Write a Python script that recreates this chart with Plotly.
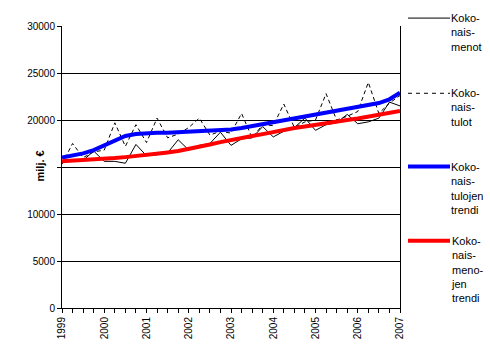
import plotly.graph_objects as go

# ---- data (quarterly, 1999Q1 .. 2007Q1) ----
quarters = [1999 + i / 4 for i in range(33)]
menot = [15600, 15600, 15700, 16700, 15600, 15600, 15400, 17400,
         16200, 16300, 16500, 17900, 16800, 17300, 17500, 18700,
         17300, 18000, 18100, 19300, 18200, 18800, 19200, 20200,
         18900, 19500, 19700, 20600, 19600, 19800, 20200, 21900, 21500]
tulot = [15300, 17500, 16000, 16600, 16800, 19700, 17200, 19500,
         17600, 20200, 18100, 18500, 19200, 20200, 18400, 18800,
         18600, 20700, 18100, 19500, 19400, 21700, 19200, 19800,
         20000, 22800, 20000, 20400, 20900, 24000, 20700, 21800, 22600]
tulojen_trendi = [16000, 16200, 16450, 16800, 17300, 17900, 18300, 18500,
                  18600, 18650, 18650, 18700, 18750, 18850, 18900, 18950,
                  19000, 19150, 19350, 19550, 19750, 19950, 20150, 20350,
                  20550, 20750, 20950, 21100, 21300, 21500, 21800, 22200, 22900]
menojen_trendi = [15600, 15650, 15700, 15800, 15850, 15950, 16050, 16150,
                  16300, 16400, 16550, 16700, 16900, 17150, 17400, 17650,
                  17900, 18100, 18300, 18500, 18750, 18950, 19150, 19300,
                  19500, 19650, 19850, 20000, 20150, 20350, 20500, 20700, 20950]
year_ticks = list(range(1999, 2008))
y_ticks = [0, 5000, 10000, 15000, 20000, 25000, 30000]
# the 15000 label is hidden behind the axis title in the original
y_tick_labels = ["0", "5000", "10000", "", "20000", "25000", "30000"]
legend_names = ["Koko-<br>nais-<br>menot",
                "Koko-<br>nais-<br>tulot",
                "Koko-<br>nais-<br>tulojen<br>trendi",
                "Koko-<br>nais-<br>meno-<br>jen<br>trendi"]

W, H = 490, 351
L, R, T, B = 62, 400, 26, 311
FONT = "Liberation Sans, Arial, sans-serif"

fig = go.Figure()
fig.add_trace(go.Scatter(x=quarters, y=menot, mode="lines",
                         line=dict(color="black", width=1)))
fig.add_trace(go.Scatter(x=quarters, y=tulot, mode="lines",
                         line=dict(color="black", width=1, dash="4px,3px")))
fig.add_trace(go.Scatter(x=quarters, y=tulojen_trendi, mode="lines",
                         line=dict(color="#0000ff", width=4)))
fig.add_trace(go.Scatter(x=quarters, y=menojen_trendi, mode="lines",
                         line=dict(color="#ff0000", width=4)))


def px_x(px):
    return (px - L) / (R - L)


def px_y(py):
    return (B - py) / (B - T)


# manual legend
styles = [dict(color="black", width=1),
          dict(color="black", width=1, dash="4px,4px"),
          dict(color="#0000ff", width=4),
          dict(color="#ff0000", width=4)]
ys = [18, 94, 168, 243]
shapes = []
annotations = []
for name, st, yy in zip(legend_names, styles, ys):
    shapes.append(dict(type="line", xref="paper", yref="paper",
                       x0=px_x(408), x1=px_x(450), y0=px_y(yy), y1=px_y(yy),
                       line=st))
    annotations.append(dict(text=name, xref="paper", yref="paper",
                            x=px_x(449), y=px_y(yy - 8), xanchor="left",
                            yanchor="top", showarrow=False, align="left",
                            font=dict(family=FONT, size=11, color="black")))

annotations.append(dict(text="<b>milj. €</b>", xref="paper", yref="paper",
                        x=px_x(40), y=px_y(168), xanchor="center",
                        yanchor="middle", textangle=-90, showarrow=False,
                        font=dict(family=FONT, size=11, color="black")))

fig.update_layout(
    width=W, height=H,
    margin=dict(l=L, r=W - R, t=T, b=H - B, pad=0),
    paper_bgcolor="white", plot_bgcolor="white",
    showlegend=False,
    shapes=shapes, annotations=annotations,
    font=dict(family=FONT, size=10, color="black"),
)
fig.update_xaxes(range=[1999, 2007], tickvals=year_ticks,
                 ticktext=[str(y) for y in year_ticks], tickangle=-90,
                 ticks="outside", ticklen=4, tickcolor="black",
                 showline=True, linecolor="black", linewidth=1,
                 showgrid=False, zeroline=False, mirror=False,
                 minor=dict(dtick=0.25, ticks="outside", ticklen=4,
                            tickcolor="black", showgrid=False),
                 tickfont=dict(family=FONT, size=10))
fig.update_yaxes(range=[0, 30000], tickvals=y_ticks, ticktext=y_tick_labels,
                 ticks="outside", ticklen=4, tickcolor="black",
                 showline=True, linecolor="black", linewidth=1, mirror=True,
                 showgrid=True, gridcolor="black", gridwidth=1,
                 zeroline=False,
                 tickfont=dict(family=FONT, size=10))

fig.write_html("out.html")
